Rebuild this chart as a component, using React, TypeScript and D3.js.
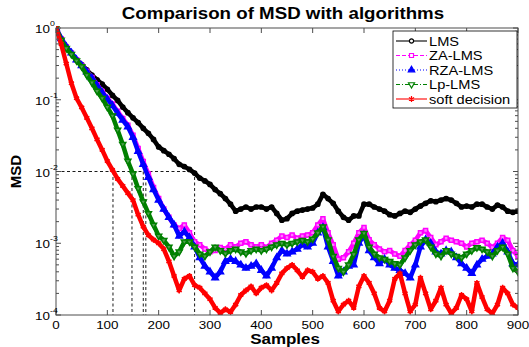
import React, { useRef, useEffect } from 'react';
import * as d3 from 'd3';

// sample index of every stored point (one value every 10 samples)
const samples = d3.range(0, 901, 10);

// MSD, one value per entry in `samples`
const lms = [
  1, 0.71, 0.55, 0.45, 0.36, 0.31, 0.26, 0.22, 0.19, 0.165, 0.14, 0.115, 0.098, 0.079, 0.066, 0.056, 0.048, 0.040, 0.034, 0.028,
  0.022, 0.0195, 0.0174, 0.0151, 0.0126, 0.0117, 0.0107, 0.0095, 0.0081, 0.0074, 0.0066, 0.0056, 0.0049, 0.0042, 0.0035, 0.0028, 0.0030, 0.0032, 0.0030, 0.0032,
  0.0032, 0.0030, 0.0032, 0.0026, 0.0021, 0.0022, 0.0026, 0.0028, 0.0029, 0.0030, 0.0031, 0.0035, 0.0048, 0.0042, 0.0036, 0.0028, 0.0023, 0.0021, 0.0024, 0.0024,
  0.0035, 0.0035, 0.0032, 0.0030, 0.0028, 0.0025, 0.0024, 0.0026, 0.0028, 0.0027, 0.0030, 0.0033, 0.0036, 0.0039, 0.0038, 0.0040, 0.0042, 0.0040, 0.0036, 0.0032,
  0.0033, 0.0032, 0.0035, 0.0035, 0.0032, 0.0030, 0.0034, 0.0032, 0.0028, 0.0027, 0.0028,
];
const zaLms = [
  1, 0.71, 0.55, 0.45, 0.36, 0.30, 0.25, 0.205, 0.162, 0.13, 0.105, 0.087, 0.069, 0.055, 0.044, 0.032, 0.021, 0.0138, 0.0092, 0.0060,
  0.0042, 0.0030, 0.0023, 0.0018, 0.0016, 0.0018, 0.0014, 0.00105, 0.00095, 0.00083, 0.00076, 0.00079, 0.00087, 0.00083, 0.00095, 0.00089, 0.0010, 0.00105, 0.00095, 0.00089,
  0.00095, 0.00087, 0.0010, 0.0011, 0.00126, 0.0012, 0.0013, 0.00117, 0.00126, 0.0013, 0.0014, 0.0018, 0.0022, 0.0014, 0.00095, 0.0006, 0.00063, 0.00076, 0.0010, 0.0014,
  0.00166, 0.00112, 0.00095, 0.00083, 0.00076, 0.00079, 0.00071, 0.00066, 0.00079, 0.00095, 0.0011, 0.0014, 0.0015, 0.0012, 0.00095, 0.00105, 0.00117, 0.0011, 0.00105, 0.0010,
  0.00089, 0.0010, 0.00105, 0.0011, 0.0010, 0.00087, 0.0010, 0.0012, 0.0011, 0.00079, 0.00066,
];
const rzaLms = [
  1, 0.71, 0.55, 0.45, 0.36, 0.30, 0.245, 0.20, 0.158, 0.126, 0.102, 0.083, 0.065, 0.052, 0.042, 0.030, 0.019, 0.0126, 0.0083, 0.0056,
  0.0040, 0.0030, 0.0023, 0.0018, 0.00126, 0.00145, 0.0012, 0.00089, 0.00063, 0.00048, 0.0004, 0.00033, 0.0004, 0.00056, 0.0006, 0.00056, 0.0005, 0.00045, 0.00048, 0.00052,
  0.00042, 0.00035, 0.00045, 0.00063, 0.00079, 0.00071, 0.00076, 0.00083, 0.00095, 0.00089, 0.0010, 0.0014, 0.00166, 0.00089, 0.00056, 0.00035, 0.0004, 0.00048, 0.0005, 0.0010,
  0.0013, 0.00079, 0.00063, 0.00052, 0.0006, 0.0005, 0.00045, 0.00042, 0.00038, 0.00033, 0.0005, 0.00089, 0.00112, 0.0010, 0.00076, 0.00071, 0.00079, 0.00076, 0.00063, 0.00052,
  0.00045, 0.00038, 0.0005, 0.0006, 0.00066, 0.00071, 0.00089, 0.0010, 0.00076, 0.00052, 0.0005,
];
const lpLms = [
  1, 0.68, 0.52, 0.43, 0.35, 0.29, 0.22, 0.174, 0.132, 0.105, 0.079, 0.060, 0.038, 0.024, 0.014, 0.0093, 0.0058, 0.0038, 0.0026, 0.0018,
  0.00126, 0.0011, 0.00089, 0.00066, 0.00076, 0.00105, 0.00105, 0.00089, 0.00071, 0.00066, 0.00076, 0.00089, 0.00079, 0.00072, 0.00079, 0.00083, 0.00076, 0.00072, 0.00079, 0.00083,
  0.00079, 0.00083, 0.00089, 0.00095, 0.0010, 0.00095, 0.0010, 0.00105, 0.0011, 0.00105, 0.00115, 0.0014, 0.0017, 0.00112, 0.00066, 0.00045, 0.0004, 0.0005, 0.0007, 0.00112,
  0.00138, 0.00089, 0.00071, 0.00063, 0.0006, 0.00056, 0.00052, 0.0005, 0.00063, 0.00079, 0.00095, 0.00105, 0.00112, 0.00089, 0.00071, 0.00066, 0.00079, 0.00071, 0.00066, 0.00063,
  0.00071, 0.00079, 0.00087, 0.00083, 0.00076, 0.00066, 0.00079, 0.00089, 0.00071, 0.00045, 0.0004,
];
const softDecision = [
  1, 0.6, 0.32, 0.17, 0.105, 0.078, 0.056, 0.040, 0.028, 0.020, 0.014, 0.0105, 0.0079, 0.0063, 0.0050, 0.0040, 0.0025, 0.0017, 0.0013, 0.00112,
  0.0010, 0.00083, 0.00056, 0.00035, 0.00022, 0.00032, 0.00035, 0.00026, 0.00024, 0.0002, 0.000166, 0.000126, 0.000107, 0.00012, 0.00011, 0.00014, 0.00019, 0.00022, 0.00025, 0.0002,
  0.00024, 0.00026, 0.00022, 0.00028, 0.00038, 0.00045, 0.0005, 0.00042, 0.00034, 0.00042, 0.0004, 0.00032, 0.00035, 0.00028, 0.000158, 0.000112, 0.00014, 0.000158, 0.000126, 0.00025,
  0.00035, 0.00028, 0.0002, 0.000126, 0.000112, 0.000158, 0.00032, 0.00038, 0.0002, 0.000112, 0.00014, 0.00033, 0.0002, 0.00012, 0.000158, 0.00024, 0.00014, 0.000105, 0.000126, 0.00019,
  0.000166, 0.000112, 0.00028, 0.000178, 0.00012, 0.000105, 0.00014, 0.00024, 0.0002, 0.00014, 0.000126,
];

// samples where each curve reaches the 1e-2 level (dashed guides)
const crossSamples = [111, 148, 170, 175, 270];
const guideLevel = 0.01;

const xTicks = [0, 100, 200, 300, 400, 500, 600, 700, 800, 900];
const yDecades = [1, 0.1, 0.01, 0.001, 0.0001];
const yExponents = ['0', '-1', '-2', '-3', '-4'];

const seriesNames = ['LMS', 'ZA-LMS', 'RZA-LMS', 'Lp-LMS', 'soft decision'];

export default function App() {
  const ref = useRef<SVGSVGElement>(null);

  useEffect(() => {
    const width = 529, height = 347;
    const margin = { top: 28, right: 11, bottom: 32, left: 56 };
    const stretch = 1.17; // the source figure is a bit wider than tall, text included

    const svg = d3.select(ref.current);
    svg.selectAll('*').remove();
    svg.attr('viewBox', `0 0 ${width} ${height}`);

    const x = d3.scaleLinear().domain([0, 900]).range([margin.left, width - margin.right]);
    const y = d3.scaleLog().domain([1e-4, 1]).range([height - margin.bottom, margin.top]);
    const [x0, x1] = x.range();
    const [yb, yt] = y.range();

    const font = '"Liberation Sans", Arimo, Helvetica, sans-serif';
    const axisColor = '#4d4d4d';

    // text helper: places a label and widens it like the source
    const label = (parent: any, tx: number, ty: number, txt: string, size: number, anchor = 'start', bold = false) =>
      parent.append('text')
        .attr('transform', `translate(${tx},${ty}) scale(${stretch},1)`)
        .attr('text-anchor', anchor)
        .attr('font-family', font)
        .attr('font-size', size)
        .attr('font-weight', bold ? 'bold' : 'normal')
        .text(txt);

    svg.append('rect').attr('width', width).attr('height', height).attr('fill', '#fff');
    svg.append('clipPath').attr('id', 'plot-clip')
      .append('rect').attr('x', x0).attr('y', yt - 2).attr('width', x1 - x0).attr('height', yb - yt + 2);

    // dashed guides at 1e-2
    const guides = svg.append('g').attr('stroke', '#000').attr('stroke-width', 0.9)
      .attr('stroke-dasharray', '3,2.5').attr('fill', 'none');
    guides.append('line')
      .attr('x1', x(0)).attr('x2', x(d3.max(crossSamples)!))
      .attr('y1', y(guideLevel)).attr('y2', y(guideLevel));
    guides.selectAll('line.v').data(crossSamples).join('line').attr('class', 'v')
      .attr('x1', d => x(d)).attr('x2', d => x(d))
      .attr('y1', y(guideLevel)).attr('y2', yb);

    const series = [
      { name: seriesNames[0], values: lms, color: '#000000', fill: '#000000', symbol: d3.symbolCircle, size: 14, hollow: true, dash: null, rot: 0 },
      { name: seriesNames[1], values: zaLms, color: '#ff00ff', fill: '#ff7fff', symbol: d3.symbolSquare, size: 16, hollow: true, dash: '4,2', rot: 0 },
      { name: seriesNames[2], values: rzaLms, color: '#0000ff', fill: '#0000ff', symbol: d3.symbolTriangle, size: 18, hollow: false, dash: '1,2', rot: 0 },
      { name: seriesNames[3], values: lpLms, color: '#008000', fill: '#4f9f4f', symbol: d3.symbolTriangle, size: 16, hollow: true, dash: '4,2,1,2', rot: 180 },
      { name: seriesNames[4], values: softDecision, color: '#ff0000', fill: '#ff0000', symbol: d3.symbolAsterisk, size: 24, hollow: false, dash: null, rot: 0 },
    ];

    const line = d3.line<number>()
      .x((_, i) => x(samples[i]))
      .y(d => y(d));

    const plot = svg.append('g').attr('clip-path', 'url(#plot-clip)');
    series.forEach(s => {
      const g = plot.append('g');
      g.append('path')
        .datum(s.values)
        .attr('fill', 'none')
        .attr('stroke', s.color)
        .attr('stroke-width', 4.5)
        .attr('stroke-linejoin', 'round')
        .attr('d', line);
      g.selectAll('path.m').data(s.values).join('path').attr('class', 'm')
        .attr('transform', (d, i) => `translate(${x(samples[i])},${y(d)}) rotate(${s.rot})`)
        .attr('d', d3.symbol(s.symbol, s.size)())
        .attr('fill', s.fill)
        .attr('stroke', s.color)
        .attr('stroke-width', 1.5);
    });

    // axes box
    const ax = svg.append('g').attr('stroke', axisColor).attr('fill', 'none').attr('stroke-width', 1);
    ax.append('rect').attr('x', x0).attr('y', yt).attr('width', x1 - x0).attr('height', yb - yt);

    xTicks.forEach(t => {
      ax.append('line').attr('x1', x(t)).attr('x2', x(t)).attr('y1', yb).attr('y2', yb - 5);
      ax.append('line').attr('x1', x(t)).attr('x2', x(t)).attr('y1', yt).attr('y2', yt + 5);
    });
    const minor: number[] = [];
    yDecades.slice(1).forEach(d => { for (let k = 2; k <= 9; k++) minor.push(d * k); });
    yDecades.forEach(t => {
      ax.append('line').attr('x1', x0).attr('x2', x0 + 5).attr('y1', y(t)).attr('y2', y(t));
      ax.append('line').attr('x1', x1).attr('x2', x1 - 5).attr('y1', y(t)).attr('y2', y(t));
    });
    minor.forEach(t => {
      ax.append('line').attr('x1', x0).attr('x2', x0 + 3).attr('y1', y(t)).attr('y2', y(t));
      ax.append('line').attr('x1', x1).attr('x2', x1 - 3).attr('y1', y(t)).attr('y2', y(t));
    });

    // tick labels
    const xl = svg.append('g');
    xTicks.forEach(t => label(xl, x(t), yb + 13.5, String(t), 11.5, 'middle'));

    const yl = svg.append('g');
    yDecades.forEach((t, i) => {
      label(yl, x0 - 6, y(t) + 5, '10', 11.5, 'end');
      label(yl, x0 - 6, y(t) - 2, yExponents[i], 7.5, 'start');
    });

    // titles
    label(svg, 283, 19, 'Comparison of MSD with algorithms', 16, 'middle', true);
    label(svg, 285, 344, 'Samples', 14.5, 'middle', true);
    svg.append('text').attr('transform', `translate(21,${(yt + yb) / 2}) rotate(-90)`)
      .attr('text-anchor', 'middle').attr('font-family', font)
      .attr('font-weight', 'bold').attr('font-size', 15)
      .text('MSD');

    // legend
    const lg = svg.append('g');
    lg.append('rect').attr('x', 393).attr('y', 31).attr('width', 124).attr('height', 77)
      .attr('fill', '#fff').attr('stroke', '#000').attr('stroke-width', 0.8);
    series.forEach((s, i) => {
      const ly = 41 + i * 14.5;
      lg.append('line').attr('x1', 396).attr('x2', 427).attr('y1', ly).attr('y2', ly)
        .attr('stroke', s.color).attr('stroke-width', 1.1)
        .attr('stroke-dasharray', s.dash);
      lg.append('path')
        .attr('transform', `translate(411.5,${ly}) rotate(${s.rot})`)
        .attr('d', d3.symbol(s.symbol, s.size)())
        .attr('fill', s.hollow ? '#fff' : s.color)
        .attr('stroke', s.color).attr('stroke-width', 1.2);
      label(lg, 429, ly + 4.5, s.name, 12.5);
    });
  }, []);

  return (
    <svg ref={ref} width={529} height={347}
      style={{ position: 'absolute', left: 0, top: 0, display: 'block' }} />
  );
}
